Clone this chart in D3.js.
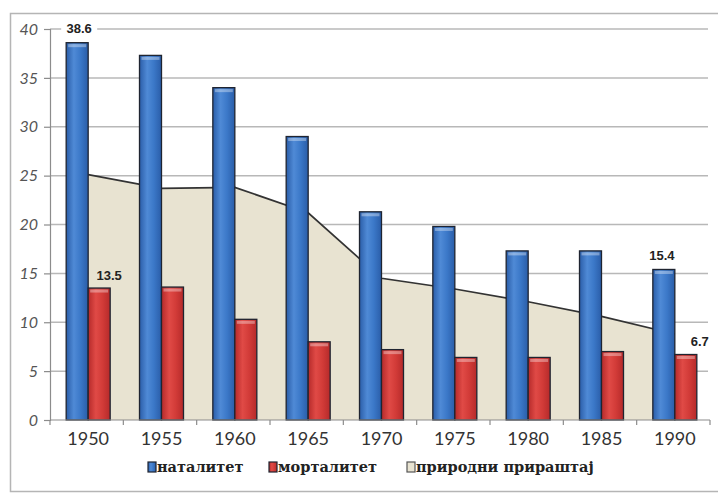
<!DOCTYPE html>
<html>
<head>
<meta charset="utf-8">
<script src="https://cdnjs.cloudflare.com/ajax/libs/d3/7.8.5/d3.min.js"></script>
<style>
  body { margin: 0; background: #fff; }
  svg { display: block; }
</style>
</head>
<body>
<svg id="chart"></svg>
<script>
const WIDTH = 718;
const HEIGHT = 494;

// data
const years = ["1950", "1955", "1960", "1965", "1970", "1975", "1980", "1985", "1990"];
const natalitet = [38.6, 37.3, 34.0, 29.0, 21.3, 19.8, 17.3, 17.3, 15.4];
const mortalitet = [13.5, 13.6, 10.3, 8.0, 7.2, 6.4, 6.4, 7.0, 6.7];
const prirastaj = [25.1, 23.7, 23.8, 21.2, 14.5, 13.4, 12.1, 10.6, 8.8];
const yTicks = [0, 5, 10, 15, 20, 25, 30, 35, 40];
const legendNames = ["наталитет", "морталитет", "природни прираштај"];

let svg = d3.select("#chart")
  .attr("width", WIDTH)
  .attr("height", HEIGHT);

let defs = svg.append("defs");

// bar gradients (3d look)
function barGradient(id, dark, mid, light) {
  let g = defs.append("linearGradient")
    .attr("id", id)
    .attr("x1", "0%").attr("x2", "100%").attr("y1", "0%").attr("y2", "0%");
  g.append("stop").attr("offset", "0%").style("stop-color", dark);
  g.append("stop").attr("offset", "35%").style("stop-color", light);
  g.append("stop").attr("offset", "65%").style("stop-color", mid);
  g.append("stop").attr("offset", "100%").style("stop-color", dark);
}
barGradient("gradBlue", "#2a5da8", "#3b78c8", "#4f8ad6");
barGradient("gradRed", "#b52a2a", "#d23b38", "#e04a46");

// outer frame
svg.append("rect")
  .attr("x", 10.5)
  .attr("y", 13.5)
  .attr("width", 730)
  .attr("height", 478)
  .style("fill", "none")
  .style("stroke", "#b5b5b5")
  .style("stroke-width", 1.5);

let x = d3.scaleBand()
  .domain(years)
  .range([51.5, 711.5])
  .paddingInner(0.4)
  .paddingOuter(0.2);

let y = d3.scaleLinear()
  .domain([0, 40])
  .range([420, 29]);

let half = x.bandwidth() / 2;
let center = d => x(d) + half;

// gridlines
svg.append("g")
  .attr("class", "grid")
  .selectAll("line")
  .data(yTicks.filter(d => d > 0))
.enter().append("line")
  .attr("x1", 50)
  .attr("x2", 708)
  .attr("y1", d => y(d))
  .attr("y2", d => y(d))
  .style("stroke", "#b8b8b8")
  .style("stroke-width", 1.5);

// natural increase area
let areaGen = d3.area()
  .x((d, i) => center(years[i]))
  .y0(y(0))
  .y1(d => y(d));

let lineGen = d3.line()
  .x((d, i) => center(years[i]))
  .y(d => y(d));

svg.append("path")
  .datum(prirastaj)
  .attr("d", areaGen)
  .style("fill", "#e8e3d1");

svg.append("path")
  .datum(prirastaj)
  .attr("d", lineGen)
  .style("fill", "none")
  .style("stroke", "#333")
  .style("stroke-width", 1.7);

// bars
function drawBars(values, offset, grad, cls) {
  let g = svg.append("g").attr("class", cls);
  let bar = g.selectAll("g")
    .data(values)
  .enter().append("g");

  bar.append("rect")
    .attr("x", (d, i) => x(years[i]) + offset)
    .attr("y", d => y(d))
    .attr("width", half)
    .attr("height", d => y(0) - y(d))
    .style("fill", "url(#" + grad + ")")
    .style("stroke", "#1f2430")
    .style("stroke-width", 1.3);

  // light cap at top of bar
  bar.append("rect")
    .attr("x", (d, i) => x(years[i]) + offset + 2)
    .attr("y", d => y(d) + 1.5)
    .attr("width", half - 4)
    .attr("height", 3)
    .style("fill", "#fff")
    .style("opacity", 0.35);
}
drawBars(natalitet, 0, "gradBlue", "natalitet");
drawBars(mortalitet, half, "gradRed", "mortalitet");

// y axis
let yAxis = svg.append("g")
  .attr("transform", "translate(50,0)")
  .call(d3.axisLeft(y).tickValues(yTicks).tickSize(6).tickPadding(6));

yAxis.select(".domain").style("stroke", "#8c8c8c").style("stroke-width", 1.2);
yAxis.selectAll(".tick line").style("stroke", "#8c8c8c").style("stroke-width", 1.2);
yAxis.selectAll(".tick text")
  .style("font-family", "Lato, 'Open Sans', sans-serif")
  .style("font-style", "italic")
  .style("font-size", "16px")
  .style("fill", "#555");

// x axis
let xAxis = svg.append("g")
  .attr("transform", "translate(0,420)")
  .call(d3.axisBottom(x).tickSize(0).tickPadding(12));

xAxis.select(".domain").remove();
xAxis.selectAll(".tick text")
  .style("font-family", "Lato, 'Open Sans', sans-serif")
  .style("font-size", "18px")
  .style("fill", "#333");

xAxis.append("line")
  .attr("x1", 50)
  .attr("x2", 710)
  .style("stroke", "#8c8c8c")
  .style("stroke-width", 1.2);

xAxis.selectAll(".sep")
  .data(d3.range(years.length + 1))
.enter().append("line")
  .attr("class", "sep")
  .attr("x1", i => 50 + i * x.step())
  .attr("x2", i => 50 + i * x.step())
  .attr("y1", 0)
  .attr("y2", 5)
  .style("stroke", "#8c8c8c")
  .style("stroke-width", 1.2);

// data labels (first and last of each bar series)
let last = years.length - 1;
let labels = [
  { v: natalitet[0], cx: center(years[0]) - half / 2 + 2, cy: y(natalitet[0]) - 14, bg: true },
  { v: mortalitet[0], cx: center(years[0]) + half / 2 + 10, cy: y(mortalitet[0]) - 13 },
  { v: natalitet[last], cx: center(years[last]) - half / 2 - 2, cy: y(natalitet[last]) - 14 },
  { v: mortalitet[last], cx: center(years[last]) + half / 2 + 14, cy: y(mortalitet[last]) - 13 }
];

let lab = svg.selectAll(".dlabel")
  .data(labels)
.enter().append("g")
  .attr("class", "dlabel");

lab.filter(d => d.bg).append("rect")
  .attr("x", d => d.cx - 18)
  .attr("y", d => d.cy - 8)
  .attr("width", 36)
  .attr("height", 16)
  .style("fill", "#fff");

lab.append("text")
  .attr("x", d => d.cx)
  .attr("y", d => d.cy)
  .attr("dy", "0.35em")
  .attr("text-anchor", "middle")
  .style("font-family", "'Liberation Sans', Arial, sans-serif")
  .style("font-weight", "bold")
  .style("font-size", "13px")
  .style("fill", "#222")
  .text(d => d.v.toFixed(1));

// legend
let legendX = [148, 269, 407];
let legendFill = ["url(#gradBlue)", "url(#gradRed)", "#e8e3d1"];

let legend = svg.append("g")
  .attr("class", "legend")
  .selectAll("g")
  .data(legendNames)
.enter().append("g")
  .attr("transform", (d, i) => "translate(" + legendX[i] + ",467)");

legend.append("rect")
  .attr("x", 0)
  .attr("y", -5)
  .attr("width", 8)
  .attr("height", 10)
  .style("fill", (d, i) => legendFill[i])
  .style("stroke", (d, i) => i === 2 ? "#555" : "#1f2430")
  .style("stroke-width", 1.2);

legend.append("text")
  .attr("x", 9)
  .attr("y", 0)
  .attr("dy", "0.35em")
  .style("font-family", "'DejaVu Serif', serif")
  .style("font-weight", "bold")
  .style("font-size", "14.5px")
  .style("fill", "#222")
  .text(d => d);
</script>
</body>
</html>
